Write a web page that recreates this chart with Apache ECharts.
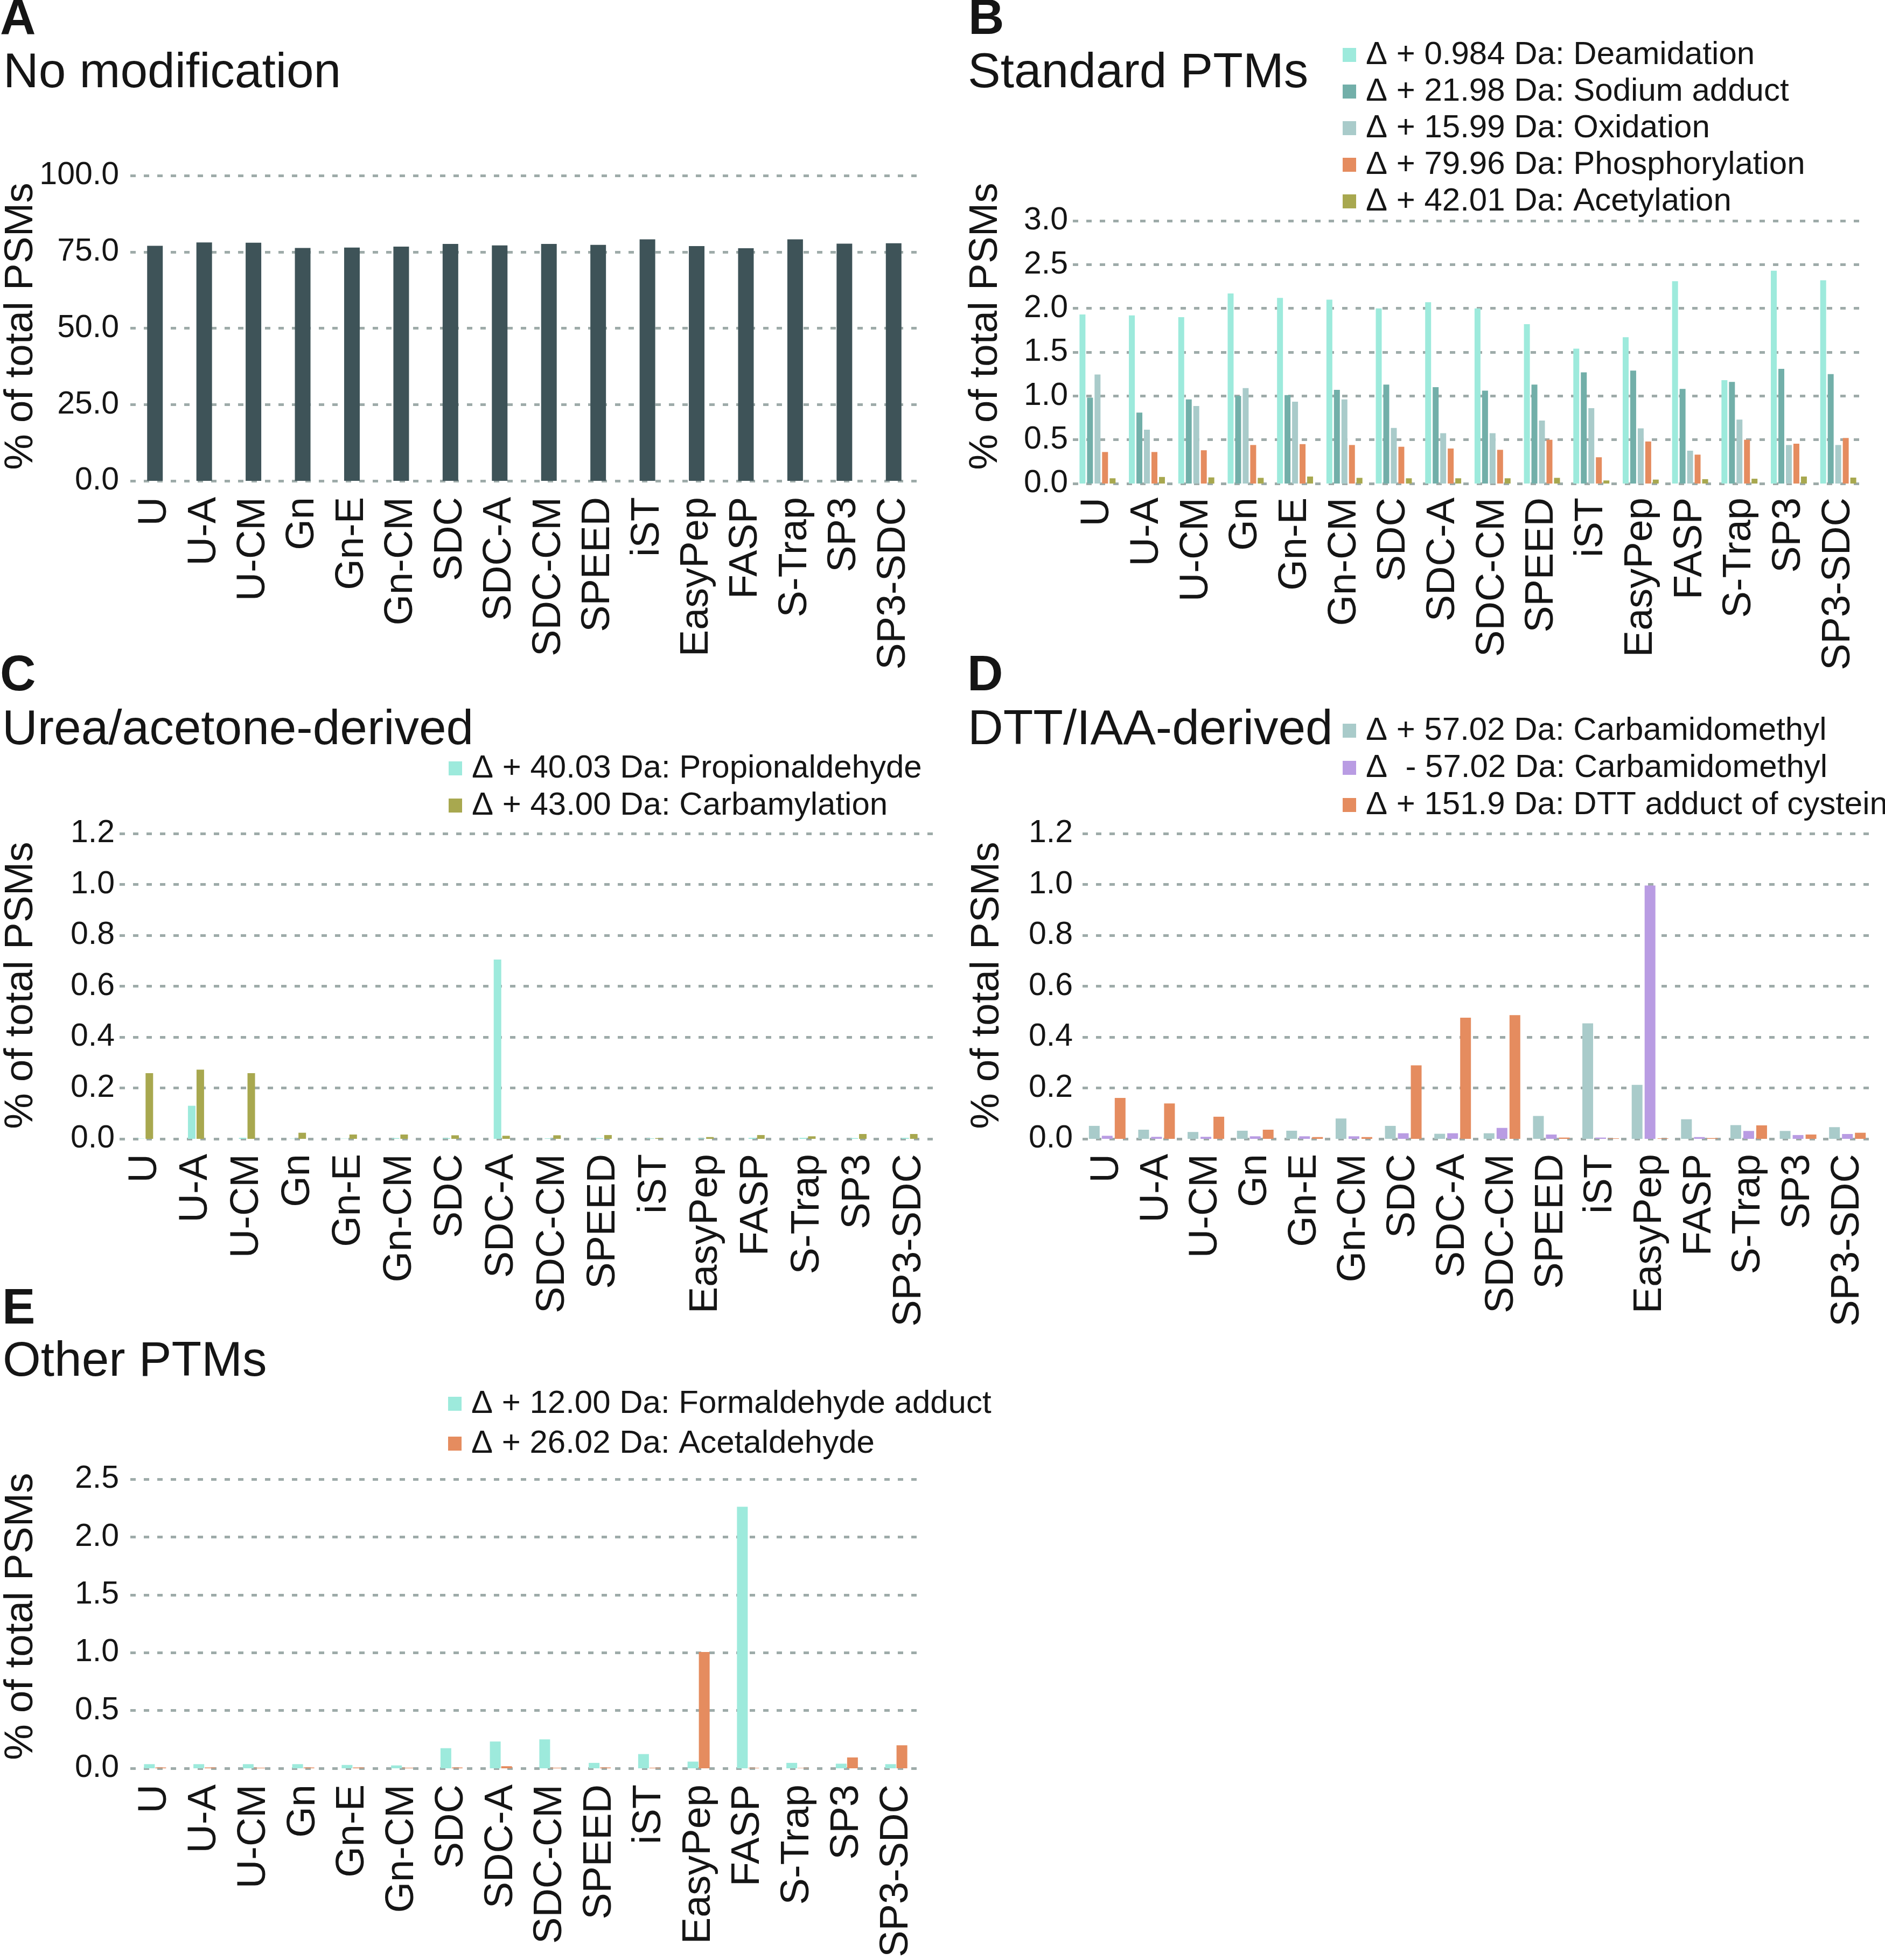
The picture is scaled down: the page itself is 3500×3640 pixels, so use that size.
<!DOCTYPE html>
<html><head><meta charset="utf-8">
<script src="https://cdn.jsdelivr.net/npm/echarts@6/dist/echarts.min.js"></script>
<style>html,body{margin:0;padding:0;background:#fff}#c{width:3500px;height:3640px}</style>
</head><body><div id="c"></div>
<script>
// ---------- data ----------
const categories = ['U','U-A','U-CM','Gn','Gn-E','Gn-CM','SDC','SDC-A','SDC-CM','SPEED','iST','EasyPep','FASP','S-Trap','SP3','SP3-SDC'];

// A: No modification
const noModification = [77.0,78.1,78.0,76.3,76.4,76.7,77.6,77.1,77.6,77.3,79.1,76.9,76.2,79.1,77.7,77.8];
const ticksA = [0,25,50,75,100];

// B: Standard PTMs
const deamidation     = [1.93,1.92,1.90,2.17,2.12,2.10,2.00,2.07,2.00,1.82,1.54,1.67,2.31,1.18,2.43,2.32];
const sodiumAdduct    = [0.98,0.81,0.96,1.00,1.01,1.07,1.13,1.10,1.06,1.13,1.27,1.29,1.08,1.16,1.31,1.25];
const oxidation       = [1.245,0.615,0.885,1.09,0.935,0.96,0.635,0.575,0.575,0.72,0.86,0.63,0.375,0.73,0.44,0.44];
const phosphorylation = [0.36,0.36,0.38,0.44,0.45,0.44,0.42,0.40,0.385,0.50,0.30,0.48,0.33,0.50,0.455,0.52];
const acetylation     = [0.06,0.075,0.07,0.065,0.08,0.065,0.06,0.06,0.06,0.065,0.035,0.045,0.05,0.055,0.08,0.068];
const ticksB = [0,0.5,1.0,1.5,2.0,2.5,3.0];

// C: Urea/acetone-derived
const propionaldehyde = [0.001,0.13,0.004,0.001,0.001,0.003,0.003,0.705,0.002,0.003,0.002,0.002,0.004,0.004,0.003,0.004];
const carbamylation   = [0.258,0.272,0.258,0.024,0.017,0.017,0.014,0.012,0.014,0.015,0.003,0.007,0.015,0.010,0.019,0.019];
const ticksC = [0,0.2,0.4,0.6,0.8,1.0,1.2];

// D: DTT/IAA-derived
const carbamidomethylPlus  = [0.051,0.036,0.027,0.032,0.032,0.080,0.051,0.020,0.022,0.090,0.454,0.212,0.077,0.054,0.031,0.046];
const carbamidomethylMinus = [0.012,0.008,0.008,0.010,0.010,0.010,0.022,0.022,0.043,0.017,0.005,0.996,0.007,0.031,0.015,0.019];
const dttAdduct            = [0.161,0.139,0.087,0.036,0.007,0.007,0.289,0.476,0.486,0.005,0.002,0.002,0.003,0.053,0.017,0.024];
const ticksD = [0,0.2,0.4,0.6,0.8,1.0,1.2];

// E: Other PTMs
const formaldehydeAdduct = [0.036,0.036,0.036,0.036,0.029,0.025,0.174,0.232,0.250,0.047,0.123,0.058,2.261,0.047,0.040,0.036];
const acetaldehyde       = [0.007,0.007,0.005,0.007,0.007,0.005,0.007,0.018,0.005,0.007,0.005,1.006,0.004,0.003,0.094,0.199];
const ticksE = [0,0.5,1.0,1.5,2.0,2.5];

const panelLetters = ['A','B','C','D','E'];
const panelTitles = ['No modification','Standard PTMs','Urea/acetone-derived','DTT/IAA-derived','Other PTMs'];
const yAxisTitle = '% of total PSMs';

// ---------- styles ----------
const FONT = '"Liberation Sans", Arial, Helvetica, sans-serif';
const INK = '#151515';
const GRIDC = '#9eaba9';
const CYAN = '#9deadc', TEAL = '#72afa9', GREYTEAL = '#a9cbca', ORANGE = '#e58c5f', OLIVE = '#a8a84f', PURPLE = '#b99ce3', SLATE = '#3e5358';

const panels = [
  {grid:{left:242, top:326, width:1463, height:567}, ticks:ticksA, yMargin:21, xMargin:30, barWidth:29, barGap:'0%',
   series:[{name:'No modification', data:noModification, color:SLATE}], legend:null},
  {grid:{left:1992, top:410, width:1467, height:488}, ticks:ticksB, yMargin:9, xMargin:26, barWidth:11, barGap:'27%',
   series:[
     {name:'\u0394 + 0.984 Da: Deamidation', data:deamidation, color:CYAN},
     {name:'\u0394 + 21.98 Da: Sodium adduct', data:sodiumAdduct, color:TEAL},
     {name:'\u0394 + 15.99 Da: Oxidation', data:oxidation, color:GREYTEAL},
     {name:'\u0394 + 79.96 Da: Phosphorylation', data:phosphorylation, color:ORANGE},
     {name:'\u0394 + 42.01 Da: Acetylation', data:acetylation, color:OLIVE}],
   legend:{left:2493, top:72, itemGap:8}},
  {grid:{left:222, top:1548, width:1514, height:567}, ticks:ticksC, yMargin:9, xMargin:28, barWidth:14, barGap:'14%',
   series:[
     {name:'\u0394 + 40.03 Da: Propionaldehyde', data:propionaldehyde, color:CYAN},
     {name:'\u0394 + 43.00 Da: Carbamylation', data:carbamylation, color:OLIVE}],
   legend:{left:833, top:1397, itemGap:9}},
  {grid:{left:2010, top:1548, width:1466, height:567}, ticks:ticksD, yMargin:18, xMargin:28, barWidth:20, barGap:'20%',
   series:[
     {name:'\u0394 + 57.02 Da: Carbamidomethyl', data:carbamidomethylPlus, color:GREYTEAL},
     {name:'\u0394  - 57.02 Da: Carbamidomethyl', data:carbamidomethylMinus, color:PURPLE},
     {name:'\u0394 + 151.9 Da: DTT adduct of cysteine', data:dttAdduct, color:ORANGE}],
   legend:{left:2493, top:1327, itemGap:9}},
  {grid:{left:242, top:2747, width:1468, height:537}, ticks:ticksE, yMargin:21, xMargin:30, barWidth:20, barGap:'5%',
   series:[
     {name:'\u0394 + 12.00 Da: Formaldehyde adduct', data:formaldehydeAdduct, color:CYAN},
     {name:'\u0394 + 26.02 Da: Acetaldehyde', data:acetaldehyde, color:ORANGE}],
   legend:{left:832, top:2577, itemGap:14}}
];

// text placements (panel letter baseline, title baseline, y-title centre)
const letterPos = [[0,70],[1798,70],[0,1289],[1796,1289],[4,2465]];
const titlePos  = [[6,168],[1797,168],[4,1388],[1797,1388],[5,2561]];
const yTitlePos = [[39,606],[1830,606],[39,1830],[1833,1830],[39,3002]];

// ---------- build option ----------
const grids = [], xAxes = [], yAxes = [], series = [], legends = [], graphics = [];
panels.forEach((p, i) => {
  grids.push(Object.assign({containLabel:false}, p.grid));
  xAxes.push({type:'category', gridIndex:i, data:categories,
    axisLine:{show:false}, axisTick:{show:false}, splitLine:{show:false},
    axisLabel:{interval:0, rotate:90, fontSize:74, fontFamily:FONT, color:INK, margin:p.xMargin, padding:[0,0,15,0]}});
  const t = p.ticks;
  yAxes.push({type:'value', gridIndex:i, min:t[0], max:t[t.length-1], interval:t[1]-t[0],
    axisLine:{show:false}, axisTick:{show:false},
    splitLine:{show:true, lineStyle:{color:GRIDC, width:5, type:[10,15]}},
    axisLabel:{formatter:v => v.toFixed(1), fontSize:59, fontFamily:FONT, color:INK, margin:p.yMargin, padding:[0,0,20,0]}});
  p.series.forEach(s => {
    series.push({type:'bar', name:s.name, xAxisIndex:i, yAxisIndex:i, data:s.data,
      barWidth:p.barWidth, barGap:p.barGap, itemStyle:{color:s.color}, emphasis:{disabled:true}});
  });
  if (p.legend) {
    legends.push({data:p.series.map(s => s.name), orient:'vertical', left:p.legend.left, top:p.legend.top,
      itemGap:p.legend.itemGap, itemWidth:25, itemHeight:26, icon:'rect', padding:0, selectedMode:false,
      textStyle:{fontSize:60, fontFamily:FONT, color:INK, lineHeight:60, padding:[0,0,0,13]}});
  }
  const F1 = 92, F2 = 91, F3 = 75;
  graphics.push({type:'text', x:letterPos[i][0], y:letterPos[i][1] - 0.3465*F1,
    style:{text:panelLetters[i], font:'bold ' + F1 + 'px ' + FONT, fill:INK, textAlign:'left', textVerticalAlign:'middle', align:'left', verticalAlign:'middle'}});
  graphics.push({type:'text', x:titlePos[i][0], y:titlePos[i][1] - 0.3465*F2,
    style:{text:panelTitles[i], font:F2 + 'px ' + FONT, fill:INK, textAlign:'left', textVerticalAlign:'middle', align:'left', verticalAlign:'middle'}});
  graphics.push({type:'text', x:yTitlePos[i][0], y:yTitlePos[i][1], rotation:Math.PI/2,
    style:{text:yAxisTitle, font:F3 + 'px ' + FONT, fill:INK, textAlign:'center', textVerticalAlign:'middle', align:'center', verticalAlign:'middle'}});
});

const chart = echarts.init(document.getElementById('c'), null, {renderer:'canvas', width:3500, height:3640});
chart.setOption({
  backgroundColor:'#ffffff',
  animation:false,
  grid:grids, xAxis:xAxes, yAxis:yAxes, series:series, legend:legends, graphic:graphics
});
</script>
</body></html>
